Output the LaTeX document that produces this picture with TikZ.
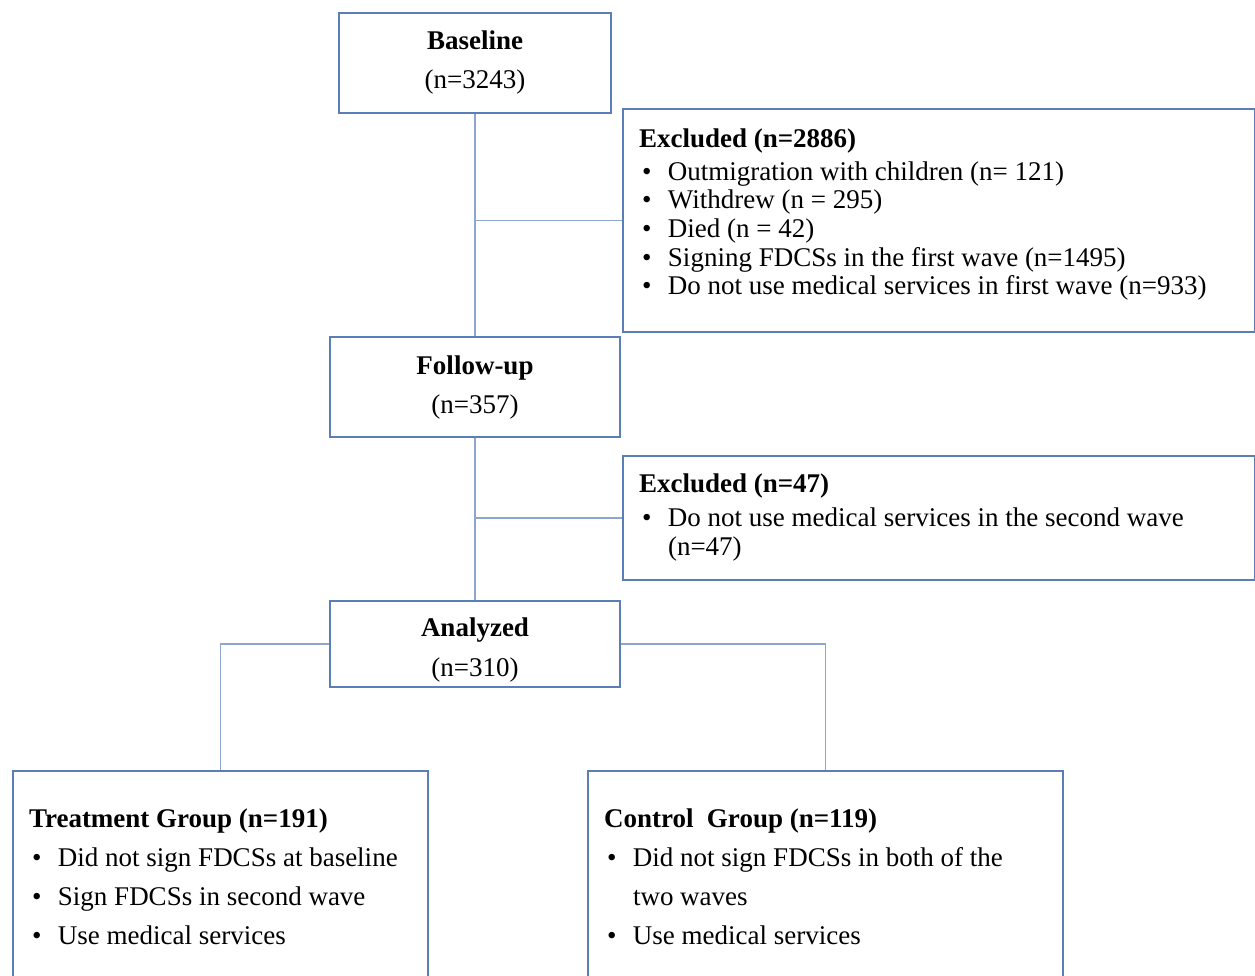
\documentclass[tikz,border=0pt]{standalone}
\usepackage{fontspec}
\setmainfont{Liberation Serif}
\definecolor{boxblue}{RGB}{92,126,182}
\definecolor{lineblue}{RGB}{140,166,206}
\newcommand{\bul}{\makebox[29pt][l]{\hspace{3pt}\textbullet}}
\newcommand{\topbox}[4]{\parbox[c][#1][t]{#2}{\vspace*{#3}#4}}
\begin{document}
\begin{tikzpicture}[x=1pt,y=-1pt,
  box/.style={draw=boxblue,line width=2pt,rectangle,anchor=north west,font=\fontsize{27}{39}\selectfont},
  cbox/.style={box,align=center,inner sep=0pt},
  lbox/.style={box,inner ysep=0pt},
  conn/.style={draw=lineblue,line width=1.5pt}]
\clip (0,0) rectangle (1255,975);
\fill[white] (0,0) rectangle (1255,975);

\node[cbox,minimum width=272pt,minimum height=100pt] (base) at (338,12)
  {\textbf{Baseline}\\(n=3243)};
\node[lbox,minimum width=632pt,minimum height=223pt,inner xsep=16pt,
  font=\fontsize{27}{28.7}\selectfont] (ex1) at (622,108)
  {\topbox{223pt}{600pt}{19.7pt}{\raggedright
   \textbf{Excluded (n=2886)}\\[4pt]
   \bul Outmigration with children (n= 121)\\
   \bul Withdrew (n = 295)\\
   \bul Died (n = 42)\\
   \bul Signing FDCSs in the first wave (n=1495)\\
   \bul Do not use medical services in first wave (n=933)}};
\node[cbox,minimum width=290pt,minimum height=100pt] (fu) at (329,336)
  {\textbf{Follow-up}\\(n=357)};
\node[lbox,minimum width=632pt,minimum height=124pt,inner xsep=16pt,
  font=\fontsize{27}{29}\selectfont] (ex2) at (622,455)
  {\topbox{124pt}{600pt}{17.7pt}{\raggedright
   \textbf{Excluded (n=47)}\\[5pt]
   \bul Do not use medical services in the second wave\\
   \hspace*{29pt}(n=47)}};
\node[lbox,inner xsep=0pt,minimum width=290pt,minimum height=86pt,
  font=\fontsize{27}{40}\selectfont] (an) at (329,600)
  {\topbox{86pt}{290pt}{17.2pt}{\centering
   \textbf{Analyzed}\\(n=310)}};
\node[lbox,minimum width=415pt,minimum height=215pt,inner xsep=16pt] (tr) at (12,770)
  {\topbox{215pt}{383pt}{38.2pt}{\raggedright
   \textbf{Treatment Group (n=191)}\\
   \bul Did not sign FDCSs at baseline\\
   \bul Sign FDCSs in second wave\\
   \bul Use medical services}};
\node[lbox,minimum width=475pt,minimum height=215pt,inner xsep=16pt] (co) at (587,770)
  {\topbox{215pt}{443pt}{38.2pt}{\raggedright
   \textbf{Control\ \ Group (n=119)}\\
   \bul Did not sign FDCSs in both of the\\
   \hspace*{29pt}two waves\\
   \bul Use medical services}};

\draw[conn] (base.south) -- (fu.north);
\draw[conn] (ex1.west -| base.south) -- (ex1.west);
\draw[conn] (fu.south) -- (an.north);
\draw[conn] (ex2.west -| fu.south) -- (ex2.west);
\draw[conn] (an.west) -| (tr.north);
\draw[conn] (an.east) -| (co.north);
\end{tikzpicture}
\end{document}
